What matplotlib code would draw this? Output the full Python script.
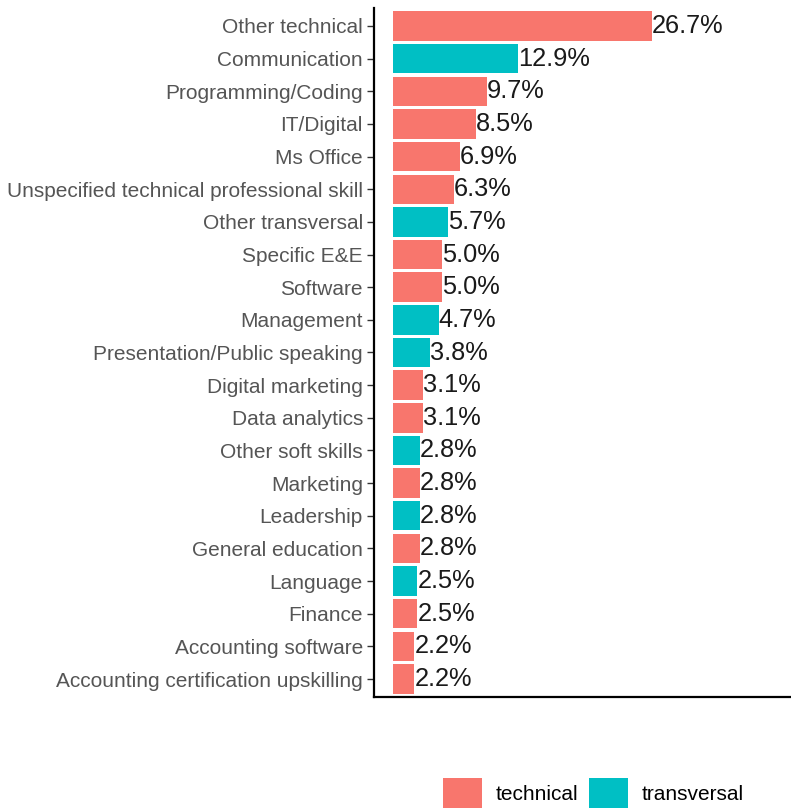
"""
plot.py - skill demand share by skill type (horizontal bar chart).
"""

import matplotlib
matplotlib.use("Agg")
import matplotlib.pyplot as plt
from matplotlib.patches import Patch

skills = [
    "Other technical", "Communication", "Programming/Coding", "IT/Digital",
    "Ms Office", "Unspecified technical professional skill", "Other transversal",
    "Specific E&E", "Software", "Management", "Presentation/Public speaking",
    "Digital marketing", "Data analytics", "Other soft skills", "Marketing",
    "Leadership", "General education", "Language", "Finance",
    "Accounting software", "Accounting certification upskilling",
]
shares = [26.7, 12.9, 9.7, 8.5, 6.9, 6.3, 5.7, 5.0, 5.0, 4.7, 3.8,
          3.1, 3.1, 2.8, 2.8, 2.8, 2.8, 2.5, 2.5, 2.2, 2.2]
kinds = ["technical", "transversal", "technical", "technical", "technical",
         "technical", "transversal", "technical", "technical", "transversal",
         "transversal", "technical", "technical", "transversal", "technical",
         "transversal", "technical", "transversal", "technical", "technical",
         "technical"]

colors = {"technical": "#F8766D", "transversal": "#00BFC4"}

plt.rcParams["font.family"] = ["Liberation Sans", "DejaVu Sans"]

fig = plt.figure(figsize=(7.91, 8.09), dpi=100)
ax = fig.add_axes([374 / 791, 1 - 697 / 809, 1 - 374 / 791, (697 - 8) / 809])

n = len(skills)
ypos = [n - i for i in range(n)]
ax.barh(ypos, shares, height=0.9, color=[colors[k] for k in kinds])

for y, v in zip(ypos, shares):
    ax.text(v, y, f"{v:.1f}%", ha="left", va="center", fontsize=18.3, color="#1a1a1a")

ax.set_yticks(ypos)
ax.set_yticklabels(skills, fontsize=15, color="#555555")
ax.set_xticks([])
ax.set_xlim(-1.96, 41.0)
ax.set_ylim(0.45, n + 0.55)

for s in ["top", "right"]:
    ax.spines[s].set_visible(False)
for s in ["left", "bottom"]:
    ax.spines[s].set_linewidth(1.6)
ax.tick_params(axis="y", length=5, width=1, color="#333333", pad=3)

handles = [Patch(facecolor=colors[k], edgecolor="none", label=k)
           for k in ["technical", "transversal"]]
fig.legend(handles=handles, loc="center", bbox_to_anchor=(0.75, 0.02),
           ncol=2, frameon=False, fontsize=15, handlelength=1.85,
           handleheight=1.85, handletextpad=0.65, columnspacing=0.55)

fig.savefig("out.png", dpi=100)
